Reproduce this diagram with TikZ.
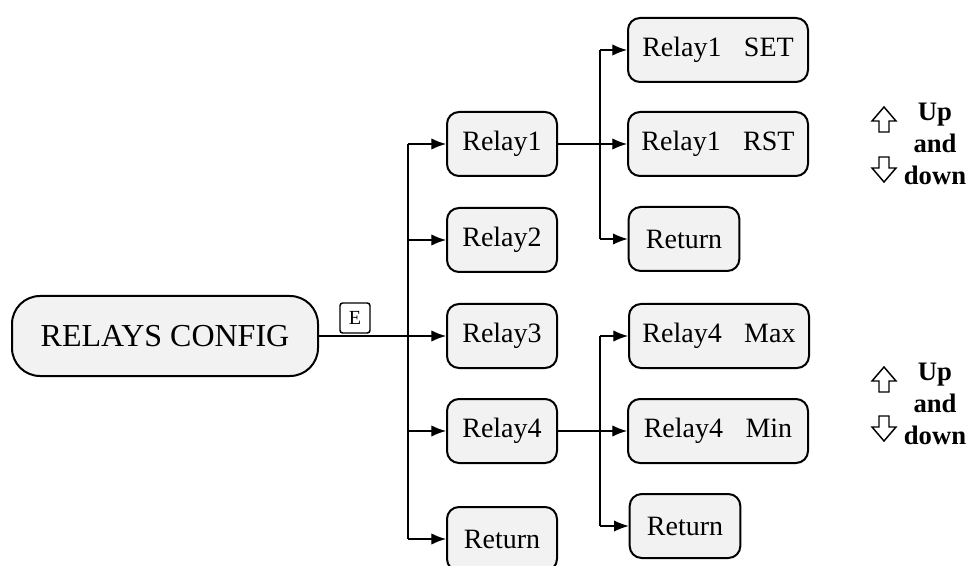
\documentclass[tikz,border=0pt]{standalone}
\usepackage{fontspec}
\setmainfont{Liberation Serif}
\usetikzlibrary{arrows.meta}
\definecolor{boxgray}{HTML}{F2F2F2}
\tikzset{
  stepbox/.style={draw, line width=1.5pt, fill=boxgray, rounded corners=9pt,
    font=\fontsize{21}{25}\selectfont, inner sep=0pt, minimum height=48pt},
  midbox/.style={stepbox, minimum width=82.5pt},
  widebox/.style={stepbox, minimum width=135pt},
  retbox/.style={stepbox, minimum width=83pt},
  thick line/.style={line width=1.5pt},
  thin line/.style={line width=0.9pt},
  arr/.style={thin line, -{Latex[length=11pt,width=8.5pt]}},
  updown/.style={font=\fontsize{20}{24}\selectfont\bfseries, align=center, inner sep=0pt},
  outarrow/.style={draw, line width=1.1pt, line join=miter}
}
\begin{document}
\begin{tikzpicture}[x=0.75pt,y=-0.75pt]
\useasboundingbox (0,0) rectangle (970,566);
% main node
\node[draw, line width=1.5pt, fill=boxgray, rounded corners=21pt, minimum width=229.5pt,
  minimum height=60pt, inner sep=0pt, font=\fontsize{24}{28}\selectfont] (rc) at (165,336) {RELAYS CONFIG};
\node[draw, line width=1.1pt, rounded corners=2pt, minimum width=22.5pt, minimum height=22.5pt,
  inner sep=0pt, font=\fontsize{15}{17}\selectfont] (e) at (355,318) {E};
% middle column
\node[midbox] (r1) at (502,144) {Relay1};
\node[midbox] (r2) at (502,240) {Relay2};
\node[midbox] (r3) at (502,336) {Relay3};
\node[midbox] (r4) at (502,431) {Relay4};
\node[midbox] (rr) at (502,539) {Return};
% right column, upper
\node[widebox] (set) at (718,50) {Relay1\hspace{0.8em}SET};
\node[widebox] (rst) at (718,144) {Relay1\hspace{0.8em}RST};
\node[retbox] (ret1) at (684,239) {Return};
% right column, lower
\node[widebox] (max) at (719,336) {Relay4\hspace{0.8em}Max};
\node[widebox] (min) at (718,431) {Relay4\hspace{0.8em}Min};
\node[retbox] (ret2) at (685,526) {Return};
% trunk coordinates
\coordinate (t1) at (408,144);
\coordinate (t2) at (408,240);
\coordinate (t3) at (408,336);
\coordinate (t4) at (408,431);
\coordinate (t5) at (408,539);
\coordinate (b1a) at (600,50);
\coordinate (b1b) at (600,144);
\coordinate (b1c) at (600,239);
\coordinate (b4a) at (600,336);
\coordinate (b4b) at (600,431);
\coordinate (b4c) at (600,526);
% connectors
\draw[thick line] (rc.east) -- (t3);
\draw[thin line] (t1) -- (t5);
\draw[arr] (t1) -- (r1.west);
\draw[arr] (t2) -- (r2.west);
\draw[arr] (t3) -- (r3.west);
\draw[arr] (t4) -- (r4.west);
\draw[arr] (t5) -- (rr.west);
\draw[thick line] (r1.east) -- (b1b);
\draw[thin line] (b1a) -- (b1c);
\draw[arr] (b1a) -- (set.west);
\draw[arr] (b1b) -- (rst.west);
\draw[arr] (b1c) -- (ret1.west);
\draw[thick line] (r4.east) -- (b4b);
\draw[thin line] (b4a) -- (b4c);
\draw[arr] (b4a) -- (max.west);
\draw[arr] (b4b) -- (min.west);
\draw[arr] (b4c) -- (ret2.west);
% up and down labels
\node[updown] (ud1) at (935,144) {Up\\and\\down};
\node[updown] (ud2) at (935,404) {Up\\and\\down};
% outline arrows
\draw[outarrow] (884,107) -- (896,121) -- (889,121) -- (889,132) -- (879,132) -- (879,121) -- (872,121) -- cycle;
\draw[outarrow] (879,157) -- (889,157) -- (889,168) -- (896,168) -- (884,182) -- (872,168) -- (879,168) -- cycle;
\draw[outarrow] (884,367) -- (896,381) -- (889,381) -- (889,392) -- (879,392) -- (879,381) -- (872,381) -- cycle;
\draw[outarrow] (879,416) -- (889,416) -- (889,427) -- (896,427) -- (884,441) -- (872,427) -- (879,427) -- cycle;
\end{tikzpicture}
\end{document}
